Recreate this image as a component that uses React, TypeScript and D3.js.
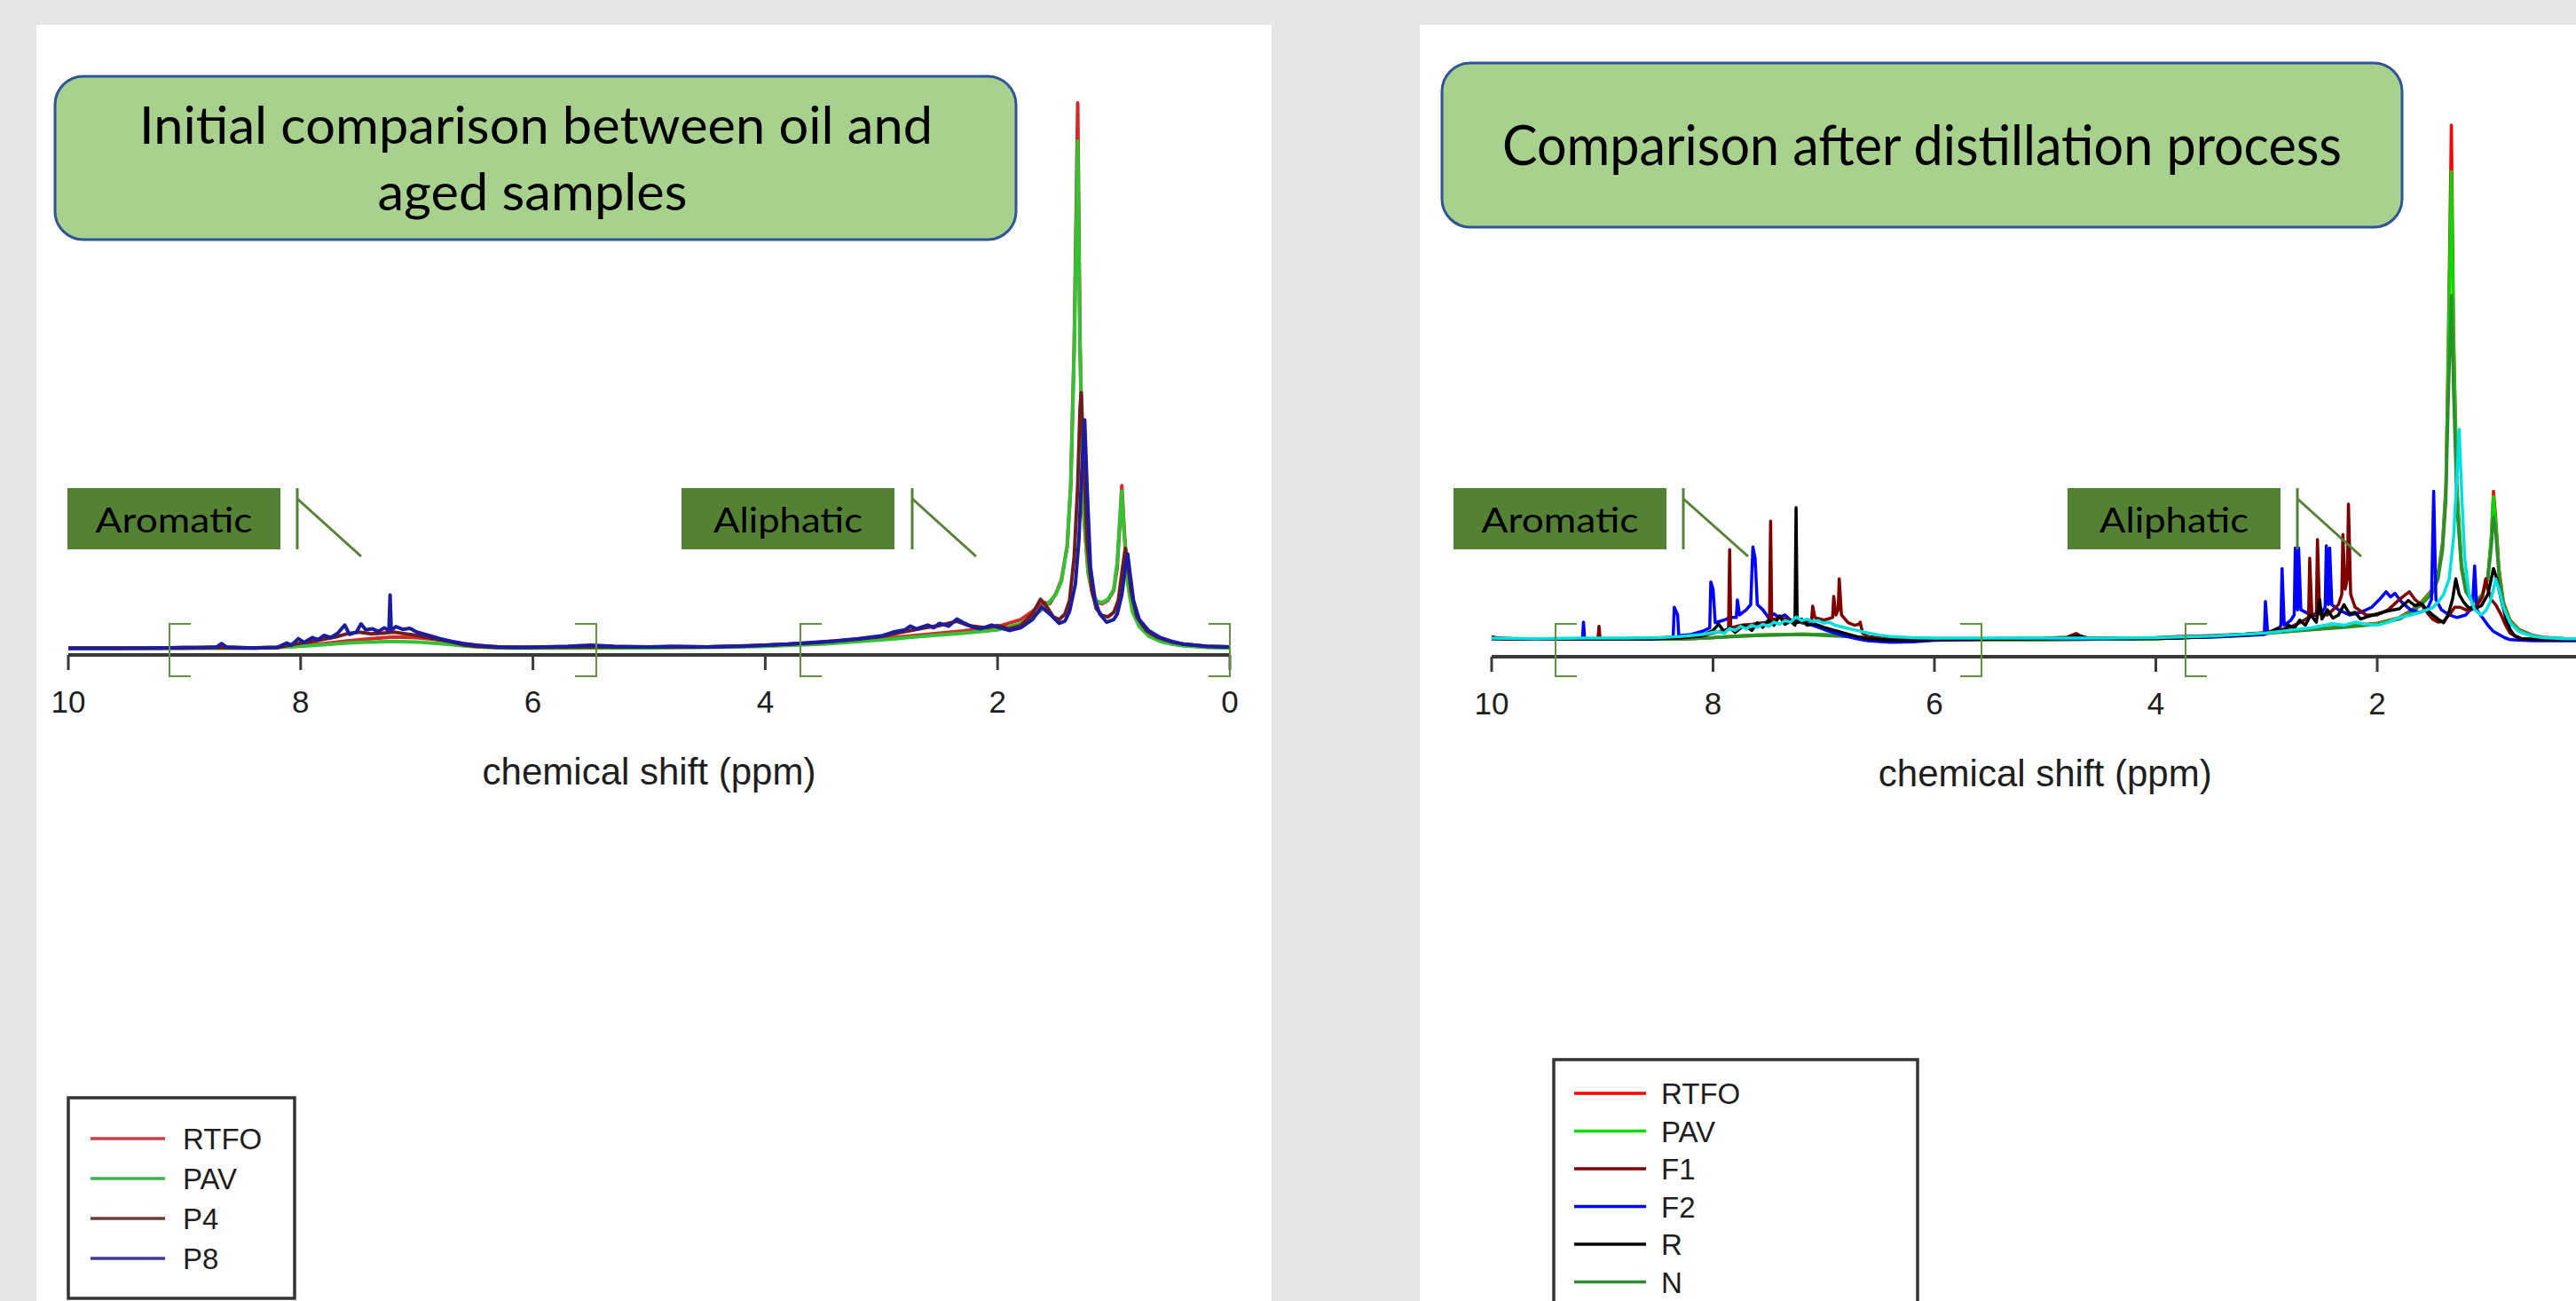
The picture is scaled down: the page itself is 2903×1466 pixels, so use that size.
import React from 'react';
import * as d3 from 'd3';

type Pt = [number, number];

// ---------- DATA ----------
const ppmTicks = [10, 8, 6, 4, 2, 0];
const axisTitle = 'chemical shift (ppm)';
const leftTitle = ['Initial comparison between oil and', 'aged samples'];
const rightTitle = ['Comparison after distillation process'];
const regionLabels = ['Aromatic', 'Aliphatic'];
const leftNames = ['RTFO', 'PAV', 'P4', 'P8'];
const rightNames = ['RTFO', 'PAV', 'F1', 'F2', 'R', 'N'];

// Left panel spectra: [ppm, relative intensity]
const leftRTFO: Pt[] = [[10,0.3],[9,0.3],[8.5,0.3],[8.2,0.4],[8,0.7],[7.8,1.1],[7.6,1.6],[7.4,2.0],[7.2,2.3],[7.0,2.2],[6.8,1.8],[6.6,1.1],[6.4,0.6],[6.2,0.4],[5.5,0.4],[5,0.4],[4.5,0.5],[4,0.7],[3.5,1.2],[3,2.0],[2.6,2.8],[2.3,3.4],[2,4.2],[1.8,5.5],[1.7,7.0],[1.6,8.6],[1.55,8.4],[1.5,10.2],[1.45,12.8],[1.4,19],[1.37,30],[1.34,56],[1.31,100],[1.29,56],[1.26,25],[1.22,14],[1.18,10],[1.14,8.6],[1.1,8.4],[1.05,9.0],[1.0,10.8],[0.97,15],[0.95,22],[0.93,30],[0.91,22],[0.88,13],[0.84,7.5],[0.78,4.5],[0.7,2.8],[0.6,1.7],[0.5,1.1],[0.4,0.8],[0.2,0.5],[0,0.4]];
const leftPAV: Pt[] = [[10,0.3],[9,0.3],[8.5,0.3],[8.2,0.4],[8,0.6],[7.8,0.9],[7.6,1.2],[7.4,1.4],[7.2,1.5],[7.0,1.4],[6.8,1.1],[6.6,0.7],[6.4,0.4],[6.2,0.3],[5.5,0.3],[5,0.3],[4.5,0.4],[4,0.6],[3.5,1.0],[3,1.8],[2.6,2.5],[2.3,3.0],[2,3.6],[1.8,4.8],[1.7,6.0],[1.6,7.6],[1.5,10],[1.45,12.5],[1.4,19],[1.37,30],[1.34,55],[1.31,93],[1.29,55],[1.26,26],[1.22,14],[1.18,10],[1.14,8.8],[1.1,8.6],[1.05,9.2],[1.0,11],[0.97,16],[0.95,23],[0.93,29],[0.91,21],[0.88,12],[0.84,7],[0.78,4.2],[0.7,2.5],[0.6,1.5],[0.5,1.0],[0.4,0.7],[0.2,0.4],[0,0.3]];
const leftP4: Pt[] = [[10,0.3],[9,0.3],[8.7,0.4],[8.4,0.3],[8.2,0.4],[8.1,0.8],[8.0,1.2],[7.9,1.5],[7.8,1.9],[7.7,2.3],[7.6,2.9],[7.5,3.2],[7.4,2.9],[7.3,3.0],[7.2,3.2],[7.1,2.9],[7.0,2.6],[6.9,2.2],[6.8,1.8],[6.7,1.4],[6.6,0.9],[6.5,0.6],[6.3,0.4],[6,0.4],[5.5,0.5],[5,0.5],[4.5,0.5],[4,0.8],[3.6,1.2],[3.2,1.9],[3,2.4],[2.8,3.3],[2.6,4.1],[2.5,4.4],[2.35,5.2],[2.25,4.4],[2.1,4.0],[2.0,4.4],[1.9,3.8],[1.8,4.4],[1.7,6.5],[1.63,9.2],[1.58,8.0],[1.52,6.0],[1.47,5.5],[1.42,6.5],[1.38,9],[1.34,17],[1.31,30],[1.29,44],[1.28,47],[1.26,36],[1.23,20],[1.19,11],[1.15,7.5],[1.1,6.2],[1.05,6.0],[1.0,6.8],[0.96,9],[0.93,14],[0.9,18.5],[0.88,16],[0.85,10.5],[0.8,6.0],[0.72,3.5],[0.62,2.2],[0.5,1.4],[0.4,1.0],[0.2,0.6],[0,0.5]];
const leftP8: Pt[] = [[10,0.2],[9.6,0.2],[9.2,0.3],[9.0,0.4],[8.85,0.4],[8.72,0.5],[8.68,1.1],[8.64,0.5],[8.4,0.3],[8.2,0.4],[8.12,1.2],[8.08,0.8],[8.02,2.0],[7.97,1.3],[7.9,2.2],[7.85,1.8],[7.8,2.6],[7.74,2.2],[7.68,3.0],[7.62,4.5],[7.58,2.8],[7.52,3.2],[7.48,4.7],[7.44,3.6],[7.38,3.8],[7.33,3.3],[7.28,4.0],[7.24,3.5],[7.23,10],[7.22,3.6],[7.18,4.2],[7.12,3.7],[7.06,3.9],[7.0,3.2],[6.9,2.6],[6.8,2.0],[6.7,1.5],[6.6,1.1],[6.5,0.8],[6.3,0.5],[6.1,0.4],[5.9,0.5],[5.7,0.6],[5.5,0.8],[5.3,0.6],[5.0,0.5],[4.8,0.6],[4.5,0.5],[4.2,0.6],[4.0,0.8],[3.8,1.0],[3.6,1.3],[3.4,1.6],[3.2,2.0],[3.0,2.5],[2.9,3.2],[2.8,3.6],[2.75,4.3],[2.7,3.8],[2.6,4.5],[2.55,4.0],[2.5,4.8],[2.42,4.3],[2.35,5.6],[2.3,5.0],[2.22,4.2],[2.15,3.8],[2.05,4.5],[1.98,4.0],[1.9,3.5],[1.8,4.0],[1.7,5.5],[1.62,7.8],[1.55,6.5],[1.47,4.8],[1.42,5.2],[1.38,7],[1.33,12],[1.30,20],[1.27,35],[1.25,42],[1.23,30],[1.2,15],[1.16,9],[1.12,6.5],[1.06,5.0],[1.0,5.5],[0.97,6.5],[0.93,10],[0.9,15],[0.88,17.5],[0.86,14],[0.83,9],[0.78,5.5],[0.7,3.5],[0.6,2.2],[0.5,1.5],[0.4,1.0],[0.2,0.6],[0,0.5]];

// Right panel spectra
const rightRTFO: Pt[] = [[10,0.4],[9.5,0.3],[9,0.3],[8.5,0.3],[8.2,0.4],[8,0.6],[7.8,0.9],[7.6,1.1],[7.4,1.2],[7.2,1.3],[7.0,1.2],[6.8,0.9],[6.6,0.6],[6.4,0.3],[6,0.2],[5,0.2],[4.5,0.3],[4,0.4],[3.5,0.8],[3,1.5],[2.6,2.2],[2.3,2.8],[2,3.4],[1.8,4.5],[1.7,5.8],[1.6,7.5],[1.5,10],[1.45,13],[1.41,19],[1.38,30],[1.36,55],[1.33,100],[1.31,60],[1.28,30],[1.24,15],[1.2,10],[1.15,8],[1.1,7.8],[1.05,9],[1.0,12.5],[0.97,20],[0.95,29],[0.93,24],[0.9,14],[0.86,7.5],[0.8,4],[0.72,2.2],[0.6,1.1],[0.5,0.7],[0.3,0.4],[0,0.3],[-0.1,0.3]];
const rightPAV: Pt[] = [[10,0.4],[9.5,0.3],[9,0.3],[8.5,0.3],[8.2,0.4],[8,0.6],[7.8,0.9],[7.6,1.1],[7.4,1.2],[7.2,1.3],[7.0,1.2],[6.8,0.9],[6.6,0.6],[6.4,0.3],[6,0.2],[5,0.2],[4.5,0.3],[4,0.4],[3.5,0.8],[3,1.5],[2.6,2.2],[2.3,2.7],[2,3.3],[1.8,4.4],[1.7,5.6],[1.6,7.3],[1.5,9.8],[1.45,12.6],[1.41,18.5],[1.38,29],[1.36,53],[1.33,91],[1.31,58],[1.28,29],[1.24,15],[1.2,10],[1.15,8],[1.1,7.8],[1.05,9],[1.0,12.5],[0.97,20],[0.95,28],[0.93,23],[0.9,13.5],[0.86,7.2],[0.8,3.8],[0.72,2.1],[0.6,1.0],[0.5,0.6],[0.3,0.4],[0,0.3],[-0.1,0.3]];
const rightF1: Pt[] = [[10,0.8],[9.9,0.3],[9.5,0.3],[9.2,0.3],[9.04,0.3],[9.03,2.8],[9.02,0.3],[8.8,0.3],[8.5,0.4],[8.3,0.5],[8.1,0.9],[8.0,1.5],[7.9,2.0],[7.86,2.2],[7.85,17.7],[7.84,2.5],[7.75,3.0],[7.65,3.2],[7.55,3.5],[7.49,3.6],[7.48,23.2],[7.47,4.0],[7.4,4.5],[7.3,4.0],[7.2,3.5],[7.11,4.0],[7.1,6.7],[7.08,4.5],[7.0,4.0],[6.92,4.5],[6.91,8.6],[6.89,5],[6.87,6],[6.86,12],[6.84,5],[6.78,3.5],[6.72,3.0],[6.68,3.2],[6.67,3.6],[6.65,1.5],[6.6,0.8],[6.4,0.3],[6,0.3],[5.5,0.4],[5,0.5],[4.8,0.7],[4.72,1.4],[4.65,0.6],[4.3,0.5],[4,0.6],[3.8,0.8],[3.5,1.0],[3.2,1.3],[3.0,1.6],[2.8,2.5],[2.7,3.5],[2.62,4.5],[2.61,16],[2.59,4.8],[2.55,5.0],[2.54,19.6],[2.52,5.2],[2.45,5.0],[2.4,6.0],[2.35,7.0],[2.32,9.0],[2.31,20.6],[2.29,10],[2.27,12],[2.26,26.5],[2.24,9],[2.2,6.5],[2.1,5.0],[2.0,5.0],[1.9,6.0],[1.8,8.0],[1.74,9.0],[1.71,9.5],[1.66,8.0],[1.6,7.0],[1.55,5.5],[1.5,4.2],[1.45,3.6],[1.4,3.8],[1.35,5.0],[1.3,6.5],[1.25,6.5],[1.2,6.0],[1.15,6.0],[1.1,6.8],[1.05,8.5],[1.02,12],[1.0,10],[0.97,8],[0.93,7],[0.88,5],[0.84,3.0],[0.8,1.5],[0.75,0.8],[0.7,0.4],[0.5,0.2],[0,0.2],[-0.1,0.2]];
const rightF2: Pt[] = [[10,0.4],[9.5,0.3],[9.18,0.3],[9.17,3.6],[9.16,0.3],[8.8,0.3],[8.5,0.4],[8.36,0.8],[8.35,6.5],[8.32,5],[8.31,1],[8.2,1.2],[8.1,1.8],[8.03,2.5],[8.02,11.4],[8.0,10],[7.98,3.5],[7.9,4.0],[7.85,4.5],[7.79,4.5],[7.78,7.9],[7.76,5.0],[7.7,6],[7.66,7],[7.64,18.2],[7.62,16],[7.6,7],[7.55,6],[7.5,4.5],[7.45,5.2],[7.4,4.5],[7.35,5.0],[7.3,4.0],[7.2,3.5],[7.1,3.0],[7.0,2.2],[6.9,1.5],[6.8,0.9],[6.7,0.4],[6.6,0.0],[6.4,-0.3],[6.2,-0.2],[6.0,0.1],[5.5,0.3],[5.0,0.4],[4.5,0.4],[4.0,0.5],[3.5,0.7],[3.2,1.0],[3.02,1.2],[3.01,7.6],[2.99,1.5],[2.9,2.0],[2.87,3.0],[2.86,14],[2.84,3.0],[2.78,4.0],[2.75,5.0],[2.74,18],[2.72,6],[2.71,18],[2.69,6],[2.6,5.0],[2.5,5.5],[2.47,6.5],[2.46,18.4],[2.44,7],[2.43,18],[2.41,7],[2.35,6.0],[2.25,5.0],[2.15,5.5],[2.05,6.5],[1.98,8.0],[1.92,9.5],[1.88,8.5],[1.84,9.2],[1.78,7.5],[1.7,6.0],[1.62,5.5],[1.55,6.0],[1.51,8.0],[1.49,29],[1.47,8.0],[1.42,6.0],[1.35,5.0],[1.28,4.5],[1.2,5.0],[1.14,6.5],[1.12,14.5],[1.10,6.0],[1.05,4.5],[1.0,3.0],[0.95,1.8],[0.9,1.2],[0.85,0.6],[0.8,0.2],[0.6,0.0],[0,0.0],[-0.1,0.0]];
const rightR: Pt[] = [[10,0.6],[9.8,0.4],[9.5,0.4],[9,0.4],[8.6,0.4],[8.3,0.6],[8.1,1.0],[8.0,2.0],[7.95,3.2],[7.9,1.8],[7.85,2.6],[7.8,1.6],[7.72,3.0],[7.65,2.0],[7.6,3.5],[7.55,2.6],[7.5,4.0],[7.45,3.0],[7.4,4.8],[7.35,3.2],[7.3,3.8],[7.26,3.0],[7.25,25.8],[7.24,3.5],[7.2,4.2],[7.15,3.0],[7.1,3.4],[7.0,2.6],[6.9,2.0],[6.8,1.4],[6.7,0.8],[6.6,0.4],[6.4,0.1],[6.2,0.1],[6.0,0.2],[5.5,0.3],[5.0,0.4],[4.8,0.6],[4.7,1.0],[4.6,0.5],[4.2,0.4],[3.8,0.5],[3.5,0.8],[3.2,1.1],[3.0,1.4],[2.9,2.4],[2.85,1.8],[2.8,3.0],[2.75,2.4],[2.7,4.0],[2.65,3.0],[2.6,5.0],[2.55,3.6],[2.52,8.0],[2.5,4.2],[2.45,6.0],[2.4,4.4],[2.35,5.0],[2.3,7.0],[2.25,5.2],[2.2,5.5],[2.15,4.2],[2.1,4.6],[2.0,5.2],[1.9,5.8],[1.8,6.2],[1.72,7.8],[1.66,6.8],[1.6,7.2],[1.55,6.0],[1.5,5.0],[1.45,4.2],[1.4,3.5],[1.36,5],[1.32,8],[1.29,12],[1.26,9],[1.22,7.5],[1.18,6.5],[1.12,6.2],[1.06,6.8],[1.0,9],[0.97,12],[0.95,14],[0.92,12],[0.88,8],[0.84,4.5],[0.8,2.2],[0.76,1.0],[0.7,0.4],[0.5,0.2],[0,0.2],[-0.1,0.2]];
const rightN: Pt[] = [[10,0.4],[9,0.3],[8.2,0.4],[8,0.6],[7.6,1.0],[7.2,1.2],[6.8,0.8],[6.4,0.3],[5,0.2],[4,0.4],[3.5,0.8],[3,1.4],[2.6,2.1],[2.3,2.6],[2,3.2],[1.8,4.2],[1.7,5.4],[1.6,7.0],[1.5,9.3],[1.45,12],[1.41,17.5],[1.38,27],[1.36,45],[1.33,67],[1.31,48],[1.28,26],[1.24,14],[1.2,9.5],[1.15,7.8],[1.1,7.6],[1.05,8.8],[1.0,12],[0.97,18],[0.95,24],[0.93,21],[0.9,12.5],[0.86,7],[0.8,3.6],[0.72,2.0],[0.6,1.0],[0.5,0.6],[0.3,0.4],[0,0.3],[-0.1,0.3]];
const rightCyan: Pt[] = [[10,0.5],[9.6,0.4],[9.2,0.5],[8.8,0.5],[8.5,0.6],[8.3,0.8],[8.1,1.2],[7.95,1.8],[7.9,1.4],[7.85,2.4],[7.8,2.0],[7.75,2.8],[7.7,2.3],[7.65,3.0],[7.6,2.6],[7.55,3.2],[7.5,2.8],[7.45,3.6],[7.4,3.2],[7.35,3.9],[7.3,3.6],[7.25,4.6],[7.2,3.9],[7.15,4.2],[7.1,3.7],[7.05,3.9],[7.0,3.4],[6.95,3.6],[6.9,3.0],[6.8,2.5],[6.7,2.0],[6.6,1.5],[6.5,1.1],[6.4,0.8],[6.2,0.6],[6,0.5],[5.5,0.5],[5,0.5],[4.5,0.5],[4,0.6],[3.5,0.9],[3.0,1.5],[2.8,2.0],[2.6,2.5],[2.4,3.3],[2.3,3.0],[2.2,3.6],[2.1,3.2],[2.0,3.0],[1.9,3.6],[1.8,4.5],[1.7,5.0],[1.6,5.6],[1.5,6.4],[1.45,7.5],[1.4,9],[1.35,12],[1.31,20],[1.28,32],[1.26,41],[1.24,30],[1.21,16],[1.17,9],[1.12,6],[1.06,5],[1.02,5.8],[0.98,7.5],[0.95,10],[0.93,12],[0.9,10],[0.86,6.5],[0.8,3.5],[0.72,1.8],[0.6,0.9],[0.5,0.6],[0.3,0.4],[0,0.4],[-0.1,0.4]];

// ---------- STYLE ----------
const BG = '#e7e6e6';
const TITLE_FILL = '#a9d18e';
const TITLE_STROKE = '#2f5597';
const LABEL_FILL = '#548235';
const CALLOUT = '#548235';
const BRACKET = '#5f9340';
const AXIS = '#3a3a3a';
const TEXT = '#1e1e1e';
const SANS = '"Liberation Sans", Arial, sans-serif';
const CAL = 'Lato, "Open Sans", sans-serif';

const leftColors = ['#d42a2a', '#33c233', '#6e1c1c', '#1c1ca0'];
const rightColors = ['#ff0000', '#00dd00', '#800000', '#0000ff', '#000000', '#2e8b2e'];
const cyanColor = '#00e0e0';

interface SeriesDef { data: Pt[]; color: string }

interface PanelProps {
  x10: number; x0: number; axisY: number; axisEndX: number;
  baseY: number; topY: number; lineW: number;
  series: SeriesDef[];
  brackets: { x: number; dir: 1 | -1 }[];
  visibleMaxX: number;
}

function Spectrum(p: PanelProps) {
  const x = d3.scaleLinear().domain([10, 0]).range([p.x10, p.x0]);
  const y = d3.scaleLinear().domain([0, 100]).range([p.baseY, p.topY]);
  const line = d3.line<Pt>().x(d => x(d[0])).y(d => y(d[1])).curve(d3.curveLinear);
  const tickLen = 17;
  const ticks = ppmTicks.filter(t => x(t) + 15 <= p.visibleMaxX);
  return (
    <g>
      {p.series.map((s, i) => (
        <path key={i} d={line(s.data) || ''} fill="none" stroke={s.color} strokeWidth={p.lineW} strokeLinejoin="round" />
      ))}
      <line x1={x(10)} x2={p.axisEndX} y1={p.axisY} y2={p.axisY} stroke={AXIS} strokeWidth={4} />
      {ticks.map(t => (
        <g key={t}>
          <line x1={x(t)} x2={x(t)} y1={p.axisY} y2={p.axisY + tickLen} stroke={AXIS} strokeWidth={3} />
          <text x={x(t)} y={p.axisY + 65} textAnchor="middle" fontFamily={SANS} fontSize={35} fill={TEXT}>{t}</text>
        </g>
      ))}
      <text x={(x(10) + x(0)) / 2} y={p.axisY + 146} textAnchor="middle" fontFamily={SANS} fontSize={42} fill={TEXT}>{axisTitle}</text>
      {p.brackets.map((b, i) => (
        <path key={i}
          d={`M${b.x + b.dir * 24},703 L${b.x},703 L${b.x},762 L${b.x + b.dir * 24},762`}
          fill="none" stroke={BRACKET} strokeWidth={2} />
      ))}
    </g>
  );
}

function Callout({ bx, vx, ex, label, textW }: { bx: number; vx: number; ex: number; label: string; textW: number }) {
  return (
    <g>
      <rect x={bx} y={550} width={240} height={69} fill={LABEL_FILL} />
      <text x={bx + 120} y={600} textAnchor="middle" fontFamily={CAL} fontSize={38} fill="#000"
        textLength={textW} lengthAdjust="spacingAndGlyphs">{label}</text>
      <line x1={vx} x2={vx} y1={550} y2={619} stroke={CALLOUT} strokeWidth={3} />
      <line x1={vx} y1={562} x2={ex} y2={627} stroke={CALLOUT} strokeWidth={3} />
    </g>
  );
}

function Legend({ x, y, w, h, names, colors, rowY0, rowStep, lineX1, lineX2, textX }: any) {
  return (
    <g>
      <rect x={x} y={y} width={w} height={h} fill="#fff" stroke="#333" strokeWidth={3.5} />
      {names.map((n: string, i: number) => {
        const ry = rowY0 + i * rowStep;
        return (
          <g key={n}>
            <line x1={lineX1} x2={lineX2} y1={ry} y2={ry} stroke={colors[i]} strokeWidth={3.5} />
            <text x={textX} y={ry + 12} fontFamily={SANS} fontSize={33} fill={TEXT}>{n}</text>
          </g>
        );
      })}
    </g>
  );
}

export default function App() {
  const W = 2903, H = 1466;
  const leftSeries: SeriesDef[] = [leftRTFO, leftPAV, leftP4, leftP8].map((d, i) => ({ data: d, color: leftColors[i] }));
  const rData = [rightRTFO, rightPAV, rightF1, rightF2, rightR, rightN];
  const order = [0, 1, 5, 3, 2, 4];
  const rightSeries: SeriesDef[] = order.map(i => ({ data: rData[i], color: rightColors[i] }));
  rightSeries.push({ data: rightCyan, color: cyanColor });

  return (
    <svg width={W} height={H} viewBox={`0 0 ${W} ${H}`} style={{ position: 'absolute', left: 0, top: 0, display: 'block' }}>
      <rect x={0} y={0} width={W} height={H} fill={BG} />
      <rect x={41} y={28} width={1392} height={H - 28} fill="#fff" />
      <rect x={1600} y={28} width={W - 1600} height={H - 28} fill="#fff" />

      {/* Left panel */}
      <Spectrum x10={77} x0={1386} axisY={738} axisEndX={1386} baseY={732} topY={116} lineW={4}
        series={leftSeries} visibleMaxX={1433}
        brackets={[{ x: 191, dir: 1 }, { x: 672, dir: -1 }, { x: 902, dir: 1 }, { x: 1386, dir: -1 }]} />
      <rect x={62} y={86} width={1083} height={184} rx={32} ry={32} fill={TITLE_FILL} stroke={TITLE_STROKE} strokeWidth={3} />
      <text x={604} y={162} textAnchor="middle" fontFamily={CAL} fontSize={59} fill="#000" textLength={894} lengthAdjust="spacingAndGlyphs">{leftTitle[0]}</text>
      <text x={600} y={237} textAnchor="middle" fontFamily={CAL} fontSize={59} fill="#000" textLength={349} lengthAdjust="spacingAndGlyphs">{leftTitle[1]}</text>
      <Callout bx={76} vx={335} ex={407} label={regionLabels[0]} textW={177} />
      <Callout bx={768} vx={1028} ex={1100} label={regionLabels[1]} textW={168} />
      <Legend x={77} y={1237} w={255} h={226} names={leftNames} colors={['#c8404a', '#3cb44b', '#6e3a3a', '#3a3aa0']}
        rowY0={1283} rowStep={45} lineX1={102} lineX2={186} textX={206} />

      {/* Right panel */}
      <Spectrum x10={1681} x0={2928.5} axisY={740} axisEndX={W} baseY={722} topY={141} lineW={3.5}
        series={rightSeries} visibleMaxX={W}
        brackets={[{ x: 1753, dir: 1 }, { x: 2233, dir: -1 }, { x: 2463, dir: 1 }]} />
      <rect x={1625} y={71} width={1082} height={185} rx={32} ry={32} fill={TITLE_FILL} stroke={TITLE_STROKE} strokeWidth={3} />
      <text x={2166} y={186} textAnchor="middle" fontFamily={CAL} fontSize={61} fill="#000" textLength={946} lengthAdjust="spacingAndGlyphs">{rightTitle[0]}</text>
      <Callout bx={1638} vx={1897} ex={1970} label={regionLabels[0]} textW={177} />
      <Callout bx={2330} vx={2589} ex={2661} label={regionLabels[1]} textW={168} />
      <Legend x={1751} y={1194} w={410} h={400} names={rightNames} colors={rightColors}
        rowY0={1232} rowStep={42.5} lineX1={1774} lineX2={1855} textX={1872} />
    </svg>
  );
}
